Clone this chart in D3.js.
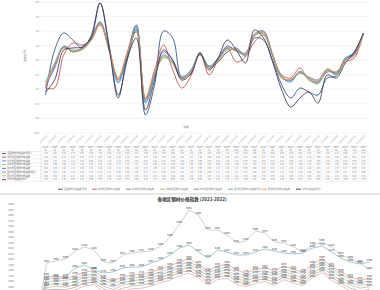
<!DOCTYPE html>
<html>
<head>
<meta charset="utf-8">
<script src="https://cdn.jsdelivr.net/npm/d3@7"></script>
<style>
  body { margin: 0; background: #fff; }
  svg { display: block; font-family: "Noto Sans CJK SC", "Noto Sans", sans-serif; }
</style>
</head>
<body>
<script>
// canvas
const width = 380, height = 290;

// ---- top chart data (monthly change, %) ----
const months = ["2020年1月","2020年2月","2020年3月","2020年4月","2020年5月","2020年6月",
  "2020年7月","2020年8月","2020年9月","2020年10月","2020年11月","2020年12月",
  "2021年1月","2021年2月","2021年3月","2021年4月","2021年5月","2021年6月",
  "2021年7月","2021年8月","2021年9月","2021年10月","2021年11月","2021年12月",
  "2022年1月","2022年2月","2022年3月","2022年4月","2022年5月","2022年6月",
  "2022年7月","2022年8月","2022年9月","2022年10月","2022年11月","2022年12月"];

const seriesNames = ["全国钢材价格指数(同比)", "华北地区钢材价格指数", "东北地区钢材价格指数",
  "华东地区钢材价格指数", "中南地区钢材价格指数", "西南地区钢材价格指数(同比)",
  "西北地区钢材价格指数", "长材价格指数(同比)"];
const seriesColors = ["#2f4b7c", "#c0504d", "#4f81bd", "#9bbb59", "#8064a2", "#4bacc6", "#f79646", "#403151"];

const national  = [-4.78, 1.40, 3.74, 2.78, 1.68, 3.33, 7.86, 2.09, -4.78, 0.03, 4.15, -7.53, -3.40, 4.02, 3.05, -2.44, -1.62, 0.86, -1.07, -0.24, 1.13, 1.68, 0.58, 3.05, 2.78, 0.03, -3.40, -5.19, -3.82, -4.37, -4.78, -2.44, -2.17, 0.03, 1.13, 3.74];
const north     = [-3.82, -3.82, 0.72, 2.37, 2.09, 2.78, 4.84, 1.40, -2.44, 1.13, 4.84, -5.19, -1.34, 2.09, -1.34, -3.82, -2.17, 1.13, -2.03, 0.03, 1.68, -0.24, 0.44, 2.50, 3.47, 0.72, -2.03, -2.44, -1.07, -2.72, -2.99, -1.62, -1.62, -0.24, 0.31, 3.74];
const northeast = [-3.40, -1.07, 1.82, 1.13, 1.68, 3.05, 5.25, 1.40, -3.13, 0.72, 4.84, -5.88, -2.31, 0.72, -0.38, -2.44, -1.34, 0.86, -0.79, 0.31, 1.82, 1.40, 0.99, 3.47, 3.88, 0.72, -2.31, -2.99, -1.62, -2.44, -2.99, -1.34, -1.89, 0.31, 0.99, 3.74];
const east      = [-3.13, -0.66, 1.68, 1.13, 1.40, 2.78, 4.98, 1.40, -2.72, 0.72, 4.57, -5.47, -2.03, 0.31, -0.24, -2.31, -1.62, 0.86, -1.07, 0.03, 1.68, 1.40, 0.72, 3.47, 3.74, 0.86, -2.31, -2.72, -1.62, -2.72, -3.27, -1.34, -2.03, 0.03, 0.72, 3.74];
const central   = [-3.82, -0.79, 1.82, 1.27, 1.68, 2.92, 5.25, 1.54, -2.72, 0.86, 4.43, -5.47, -1.89, 1.13, 0.03, -2.44, -1.76, 0.99, -0.93, 0.17, 1.95, 1.27, 0.86, 3.60, 4.02, 0.72, -2.44, -2.72, -1.76, -2.31, -2.72, -1.21, -1.76, 0.17, 0.86, 3.74];
const southwest = [-2.99, -0.38, 1.95, 1.40, 1.54, 2.78, 5.11, 1.27, -2.99, 0.58, 4.70, -5.74, -2.17, 0.58, -0.24, -2.17, -1.48, 0.99, -0.93, 0.17, 1.54, 1.27, 0.72, 3.33, 3.60, 0.58, -2.17, -2.85, -1.48, -2.58, -3.13, -1.48, -1.89, 0.17, 0.72, 3.60];
const northwest = [-3.54, -0.52, 1.68, 1.27, 1.40, 2.64, 4.98, 1.54, -2.44, 0.99, 3.88, -5.19, -1.76, 0.44, -0.52, -2.58, -1.62, 0.72, -1.07, -0.11, 1.40, 1.54, 0.58, 3.60, 3.74, 0.86, -2.44, -2.58, -1.76, -2.44, -2.85, -1.21, -1.62, 0.03, 0.58, 3.74];
const longSteel = [-4.37, -2.72, 1.40, 1.68, 1.82, 3.05, 7.86, 1.68, -5.19, 0.31, 3.05, -6.84, -2.72, 1.40, 0.03, -2.72, -1.89, 0.86, -1.34, 0.31, 2.78, 1.40, -0.38, 4.15, 3.05, -0.24, -4.09, -6.43, -5.19, -4.37, -5.88, -2.03, -2.44, -0.38, 1.13, 3.74];
const topSeries = [national, north, northeast, east, central, southwest, northwest, longSteel];
const topTicks = [8, 6, 4, 2, 0, -2, -4, -6, -8, -10];

// ---- bottom chart data (index level) ----
const periods = ["第1期","第2期","第3期","第4期","第5期","第6期","第7期","第8期","第9期","第10期",
  "第11期","第12期","第13期","第14期","第15期","第16期","第17期","第18期","第19期","第20期",
  "第21期","第22期","第23期","第24期","第25期","第26期","第27期","第28期","第29期","第30期",
  "第31期","第32期","第33期","第34期","第35期","第36期"];
const idxA = [3900, 4927, 4964, 5000, 5145, 5218, 5164, 4945, 4927, 5073, 5109, 5127, 5145, 5236, 5400, 5636, 5891, 5800, 5527, 5527, 5436, 5291, 5327, 5509, 5473, 5309, 5291, 5218, 5127, 5255, 5309, 5218, 5073, 5000, 4927, 4800];
const idxB = [3880, 4691, 4673, 4673, 4836, 4891, 4800, 4745, 4764, 4836, 4855, 4855, 4927, 4982, 5073, 5200, 5255, 5127, 5018, 5164, 5127, 5073, 5073, 5127, 5182, 5145, 5109, 5091, 5109, 5200, 5236, 5127, 5018, 4945, 4909, 4945];
const idxC = [3850, 4630, 4655, 4640, 4700, 4760, 4790, 4650, 4600, 4668, 4712, 4718, 4765, 4812, 4878, 4945, 5004, 4905, 4781, 4872, 4908, 4800, 4738, 4812, 4836, 4780, 4870, 4815, 4760, 4905, 5000, 4872, 4760, 4672, 4615, 4650];
const idxD = [3820, 4590, 4598, 4612, 4640, 4702, 4728, 4606, 4552, 4620, 4660, 4670, 4705, 4771, 4815, 4885, 4952, 4858, 4736, 4820, 4850, 4752, 4690, 4770, 4788, 4726, 4810, 4772, 4718, 4850, 4945, 4826, 4716, 4625, 4568, 4604];
const idxE = [3790, 4530, 4556, 4530, 4592, 4668, 4676, 4560, 4490, 4575, 4600, 4630, 4668, 4710, 4776, 4838, 4890, 4812, 4684, 4764, 4812, 4690, 4650, 4720, 4730, 4688, 4762, 4720, 4652, 4812, 4890, 4776, 4668, 4566, 4520, 4548];
const idxF = [3760, 4480, 4508, 4488, 4536, 4616, 4622, 4508, 4444, 4526, 4552, 4570, 4616, 4660, 4728, 4786, 4852, 4750, 4634, 4716, 4760, 4640, 4600, 4660, 4690, 4622, 4726, 4660, 4616, 4750, 4842, 4726, 4604, 4526, 4470, 4496];
const idxG = [3730, 4440, 4450, 4440, 4484, 4566, 4576, 4456, 4402, 4466, 4510, 4520, 4566, 4610, 4676, 4748, 4790, 4710, 4576, 4676, 4700, 4600, 4538, 4620, 4628, 4586, 4666, 4620, 4556, 4710, 4790, 4666, 4566, 4466, 4420, 4446];
const idxH = [3700, 4380, 4404, 4380, 4442, 4506, 4536, 4396, 4356, 4416, 4460, 4470, 4506, 4570, 4616, 4698, 4740, 4660, 4526, 4626, 4650, 4540, 4498, 4560, 4590, 4524, 4626, 4560, 4516, 4660, 4752, 4616, 4516, 4416, 4360, 4404];
const bottomSeries = [idxA, idxB, idxC, idxD, idxE, idxF, idxG, idxH];
const bottomColors = ["#c4c4c4", "#8db7c6", "#e3a4a4", "#bdbdbd", "#a9c4d8", "#d8b48e", "#b3b3b3", "#e0b2b2"];

const svg = d3.select("body").append("svg")
    .attr("width", width)
    .attr("height", height);

// ================= top chart =================
const x = d3.scalePoint().domain(months).range([41, 368]).padding(0.5);
const band = d3.scaleBand().domain(months).range([41, 368]);
const y = d3.scaleLinear().domain([-10, 8]).range([133, 2]);

// gridlines + y labels
svg.append("g").selectAll("line")
    .data(topTicks).enter().append("line")
    .attr("x1", 41).attr("x2", 368)
    .attr("y1", d => y(d)).attr("y2", d => y(d))
    .attr("stroke", "#ebebeb").attr("stroke-width", 0.6);

svg.append("g").selectAll("text")
    .data(topTicks).enter().append("text")
    .attr("x", 39).attr("y", d => y(d) + 1)
    .attr("text-anchor", "end")
    .attr("font-size", 2.6).attr("fill", "#888")
    .text(d => d.toFixed(1));

// axis titles
svg.append("text")
    .attr("transform", "translate(26,56) rotate(-90)")
    .attr("text-anchor", "middle")
    .attr("font-size", 2.8).attr("fill", "#888")
    .text("涨跌幅(%)");
svg.append("text")
    .attr("x", 186).attr("y", 128)
    .attr("text-anchor", "middle")
    .attr("font-size", 2.8).attr("fill", "#888")
    .text("日期");

// lines
const line = d3.line()
    .x((d, i) => x(months[i]))
    .y(d => y(d))
    .curve(d3.curveCatmullRom.alpha(0.5));

svg.append("g").selectAll("path")
    .data(topSeries).enter().append("path")
    .attr("d", line)
    .attr("fill", "none")
    .attr("stroke", (d, i) => seriesColors[i])
    .attr("stroke-width", 1)
    .attr("stroke-opacity", 0.85);

// rotated month labels
svg.append("g").selectAll("text")
    .data(months).enter().append("text")
    .attr("transform", d => `translate(${x(d) + 2},136) rotate(-45)`)
    .attr("text-anchor", "end")
    .attr("font-size", 2.2).attr("fill", "#999")
    .text(d => d);

// data table
const tableTop = 146, headH = 5.5, rowH = 3.75;
const table = svg.append("g");
table.append("rect")
    .attr("x", 41).attr("y", tableTop)
    .attr("width", 327).attr("height", headH + rowH * topSeries.length)
    .attr("fill", "none").attr("stroke", "#dde4ec").attr("stroke-width", 0.4);
table.append("rect")
    .attr("x", 0.5).attr("y", tableTop + headH)
    .attr("width", 40.5).attr("height", rowH * topSeries.length)
    .attr("fill", "none").attr("stroke", "#dde4ec").attr("stroke-width", 0.4);

table.selectAll(".vcol")
    .data(months).enter().append("line")
    .attr("x1", d => band(d)).attr("x2", d => band(d))
    .attr("y1", tableTop).attr("y2", tableTop + headH + rowH * topSeries.length)
    .attr("stroke", "#dde4ec").attr("stroke-width", 0.4);

table.selectAll(".hrow")
    .data(topSeries).enter().append("line")
    .attr("x1", 0.5).attr("x2", 368)
    .attr("y1", (d, i) => tableTop + headH + rowH * i)
    .attr("y2", (d, i) => tableTop + headH + rowH * i)
    .attr("stroke", "#dde4ec").attr("stroke-width", 0.4);

// header (two lines)
const head = table.selectAll(".head")
    .data(months).enter().append("text")
    .attr("text-anchor", "middle")
    .attr("font-size", 1.9).attr("fill", "#777");
head.append("tspan")
    .attr("x", d => x(d)).attr("y", tableTop + 2.3)
    .text(d => d.split("年")[0] + "年");
head.append("tspan")
    .attr("x", d => x(d)).attr("y", tableTop + 4.8)
    .text(d => d.split("年")[1]);

// rows
topSeries.forEach((s, r) => {
  const cy = tableTop + headH + rowH * r + rowH / 2 + 0.8;
  table.append("line")
      .attr("x1", 2).attr("x2", 6)
      .attr("y1", cy - 0.8).attr("y2", cy - 0.8)
      .attr("stroke", seriesColors[r]).attr("stroke-width", 0.9);
  table.append("text")
      .attr("x", 7).attr("y", cy)
      .attr("font-size", 2.3).attr("fill", "#666")
      .text(seriesNames[r]);
  table.selectAll(".c" + r)
      .data(s).enter().append("text")
      .attr("x", (d, i) => x(months[i]))
      .attr("y", cy)
      .attr("text-anchor", "middle")
      .attr("font-size", 2.1).attr("fill", "#777")
      .text(d => d.toFixed(2));
});

// legend
const legend = svg.append("g").selectAll("g")
    .data(seriesNames).enter().append("g")
    .attr("transform", (d, i) => `translate(${58 + i * 34},190)`);
legend.append("line")
    .attr("x1", 0).attr("x2", 5).attr("y1", -0.8).attr("y2", -0.8)
    .attr("stroke", (d, i) => seriesColors[i]).attr("stroke-width", 0.9);
legend.append("text")
    .attr("x", 6).attr("y", 0.2)
    .attr("font-size", 2.2).attr("fill", "#777")
    .text(d => d);

// separator
svg.append("line")
    .attr("x1", 0).attr("x2", width).attr("y1", 194).attr("y2", 194)
    .attr("stroke", "#cfcfcf").attr("stroke-width", 1);

// ================= bottom chart =================
svg.append("text")
    .attr("x", 192).attr("y", 200.5)
    .attr("text-anchor", "middle")
    .attr("font-size", 4.6).attr("font-weight", "bold").attr("fill", "#333")
    .text("各地区钢材价格指数 (2021-2022)");

const x2 = d3.scalePoint().domain(periods).range([37, 369.5]);
const y2 = d3.scaleLinear().domain([3500, 6000]).range([341.5, 204]);

svg.append("g").selectAll("text")
    .data(y2.ticks(25).filter(d => y2(d) < 288)).enter().append("text")
    .attr("x", 14).attr("y", d => y2(d) + 1)
    .attr("text-anchor", "end")
    .attr("font-size", 2.6).attr("fill", "#888")
    .text(d => d);

const line2 = d3.line()
    .x((d, i) => x2(periods[i]))
    .y(d => y2(d));

svg.append("g").selectAll("path")
    .data(bottomSeries).enter().append("path")
    .attr("d", line2)
    .attr("fill", "none")
    .attr("stroke", (d, i) => bottomColors[i])
    .attr("stroke-width", 0.8);

// data labels on every visible point
bottomSeries.forEach(s => {
  const pts = s.map((v, i) => ({ v, i })).slice(1).filter(p => y2(p.v) < 288);
  svg.append("g").selectAll("text")
      .data(pts).enter().append("text")
      .attr("x", p => x2(periods[p.i]))
      .attr("y", p => y2(p.v) - 1.2)
      .attr("text-anchor", "middle")
      .attr("font-size", 2.4).attr("fill", "#333")
      .text(p => p.v);
});
</script>
</body>
</html>
